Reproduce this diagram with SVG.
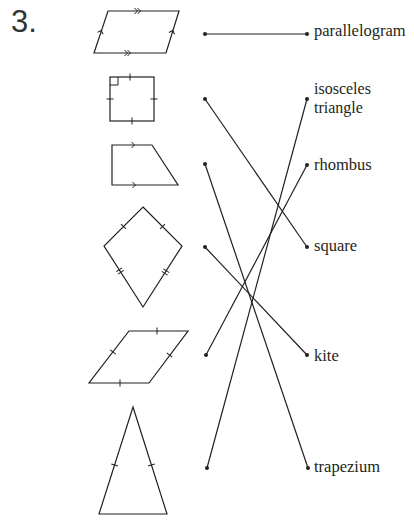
<svg xmlns="http://www.w3.org/2000/svg" xmlns:xlink="http://www.w3.org/1999/xlink" width="414" height="526" viewBox="0 0 414 526">
<style>
.s{fill:none;stroke:#231f20;stroke-width:1.2;stroke-linejoin:miter}
.m{fill:none;stroke:#231f20;stroke-width:1}
.c{stroke:#231f20;stroke-width:1.2;fill:none}
.d{fill:#231f20}
.t{font-family:"Liberation Serif","Times New Roman",serif;font-size:16.5px;fill:#231f20}
.t2{font-family:"Liberation Serif","Times New Roman",serif;font-size:16px;fill:#231f20}
.n{font-family:"Liberation Sans",Arial,sans-serif;font-size:31px;fill:#333}
</style>
<defs>
<path id="chev" d="M-2.5,-3 L0.5,0 L-2.5,3" class="m"/>
<path id="chev2" d="M-4.5,-3 L-1.5,0 L-4.5,3 M-1.5,-3 L1.5,0 L-1.5,3" class="m"/>
<path id="tick" d="M0,-3.5 V3.5" class="m"/>
<path id="tick2" d="M-1.5,-3.5 V3.5 M1.5,-3.5 V3.5" class="m"/>
</defs>
<rect width="414" height="526" fill="#fff"/>
<text class="n" x="11" y="32">3.</text>

<g id="shape-parallelogram">
<path class="s" d="M108,11 L179,11 L166,53 L94,53 Z"/>
<use xlink:href="#chev2" transform="translate(139,11)"/>
<use xlink:href="#chev2" transform="translate(129,53)"/>
<use xlink:href="#chev" transform="translate(101,31) rotate(-71.6)"/>
<use xlink:href="#chev" transform="translate(172.5,31) rotate(-72.8)"/>
</g>

<g id="shape-square">
<rect class="s" x="110" y="77" width="44" height="44"/>
<path class="m" d="M110,85 H118 V77"/>
<use xlink:href="#tick" transform="translate(130,77)"/>
<use xlink:href="#tick" transform="translate(132,121)"/>
<use xlink:href="#tick" transform="translate(110,99) rotate(90)"/>
<use xlink:href="#tick" transform="translate(154,99) rotate(90)"/>
</g>

<g id="shape-trapezium">
<path class="s" d="M112,145 L152,145 L178,185 L112,185 Z"/>
<use xlink:href="#chev" transform="translate(134,145)"/>
<use xlink:href="#chev" transform="translate(135,185)"/>
</g>

<g id="shape-kite">
<path class="s" d="M143,207 L182,246 L143,307 L104,246 Z"/>
<use xlink:href="#tick" transform="translate(123.5,226.5) rotate(-45)"/>
<use xlink:href="#tick" transform="translate(162.5,226.5) rotate(45)"/>
<use xlink:href="#tick2" transform="translate(120,271) rotate(57.4)"/>
<use xlink:href="#tick2" transform="translate(165.5,272) rotate(122.6)"/>
</g>

<g id="shape-rhombus">
<path class="s" d="M129,331 L188,331 L149,383 L89,383 Z"/>
<use xlink:href="#tick" transform="translate(157,331)"/>
<use xlink:href="#tick" transform="translate(120,383)"/>
<use xlink:href="#tick" transform="translate(113,352) rotate(-52.4)"/>
<use xlink:href="#tick" transform="translate(169.5,355) rotate(-53.1)"/>
</g>

<g id="shape-triangle">
<path class="s" d="M133,407 L167,514 L99,514 Z"/>
<use xlink:href="#tick" transform="translate(114.6,465) rotate(-72.4)"/>
<use xlink:href="#tick" transform="translate(151.4,465) rotate(72.4)"/>
</g>

<g id="connectors">
<line class="c" x1="205" y1="34" x2="307" y2="34"/>
<line class="c" x1="205" y1="99" x2="307" y2="247"/>
<line class="c" x1="205" y1="164" x2="308" y2="468"/>
<line class="c" x1="205" y1="247" x2="307" y2="355"/>
<line class="c" x1="206" y1="355" x2="307" y2="165"/>
<line class="c" x1="207" y1="468" x2="307" y2="99"/>
<g class="d">
<circle cx="205" cy="34" r="2"/><circle cx="307" cy="34" r="2"/>
<circle cx="205" cy="99" r="2"/><circle cx="307" cy="247" r="2"/>
<circle cx="205" cy="164" r="2"/><circle cx="308" cy="468" r="2"/>
<circle cx="205" cy="247" r="2"/><circle cx="307" cy="355" r="2"/>
<circle cx="206" cy="355" r="2"/><circle cx="307" cy="165" r="2"/>
<circle cx="207" cy="468" r="2"/><circle cx="307" cy="99" r="2"/>
</g>
</g>

<g id="label-parallelogram"><text class="t" x="314" y="36">parallelogram</text></g>
<g id="label-isosceles"><text class="t2" x="314" y="94">isosceles</text><text class="t2" x="314" y="112.5">triangle</text></g>
<g id="label-rhombus"><text class="t" x="314" y="170">rhombus</text></g>
<g id="label-square"><text class="t" x="314" y="251">square</text></g>
<g id="label-kite"><text class="t" x="314" y="361">kite</text></g>
<g id="label-trapezium"><text class="t" x="314" y="472">trapezium</text></g>
</svg>
